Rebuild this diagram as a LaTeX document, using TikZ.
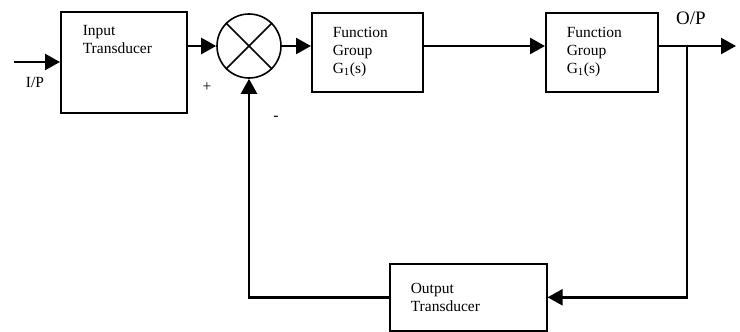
\documentclass[tikz,border=0pt]{standalone}
\usepackage{fontspec}
\setmainfont{Liberation Serif}
\usetikzlibrary{arrows.meta, positioning}
\tikzset{
  blockbox/.style={rectangle, draw, line width=1.6pt, align=left, inner xsep=21pt,
    anchor=north west, font=\fontsize{15.5}{18}\selectfont},
  sumnode/.style={circle, draw, line width=1.6pt, minimum size=64pt, inner sep=0pt},
  sig/.style={line width=2.4pt},
  sigarrow/.style={sig, -{Triangle[length=15pt, width=16pt]}},
  sign/.style={font=\fontsize{15.5}{17}\selectfont},
}

\begin{document}
\begin{tikzpicture}[x=1pt, y=-1pt]
  \useasboundingbox (0,0) rectangle (740,332);
  % blocks
  \node[blockbox, minimum width=126pt, minimum height=101pt,
        label={[blockbox, draw=none, anchor=north west, inner sep=0pt, xshift=22pt, yshift=-14pt]north west:{Input\\Transducer}}]
    (intrans) at (60,11) {};
  \node[sumnode] (sum) at (249,46) {};
  \draw[line width=1.6pt] (sum.north west) -- (sum.south east);
  \draw[line width=1.6pt] (sum.north east) -- (sum.south west);
  \node[blockbox, minimum width=111pt, minimum height=79pt, text width=69pt]
    (fgone) at (311,12) {Function\\Group\\G\textsubscript{1}(s)};
  \node[blockbox, minimum width=112pt, minimum height=79pt, text width=70pt]
    (fgtwo) at (545,12) {Function\\Group\\G\textsubscript{1}(s)};
  \node[blockbox, minimum width=157pt, minimum height=67pt, text width=115pt]
    (outtrans) at (389,263) {Output\\Transducer};
  % free ends
  \coordinate (ip) at (14,62);
  \coordinate (op) at (736,46);
  \coordinate (br) at (687,46);
  % labels
  \node[sign] (iplabel) at (35,82) {I/P};
  \node[font=\fontsize{19}{21}\selectfont] (oplabel) at (691,18) {O/P};
  \node[sign] (plus) at (207,87) {+};
  \node[sign] (minus) at (276,118) {-};
  % connectors
  \draw[sigarrow] (ip) -- (intrans.west |- ip);
  \draw[sigarrow] (intrans.east |- sum) -- (sum.west);
  \draw[sigarrow] (sum.east) -- (fgone.west |- sum);
  \draw[sigarrow] (fgone.east |- sum) -- (fgtwo.west |- sum);
  \draw[sigarrow] (fgtwo.east |- sum) -- (op);
  \draw[sigarrow] (br) |- (outtrans.east);
  \draw[sigarrow] (outtrans.west) -| (sum.south);
\end{tikzpicture}
\end{document}
